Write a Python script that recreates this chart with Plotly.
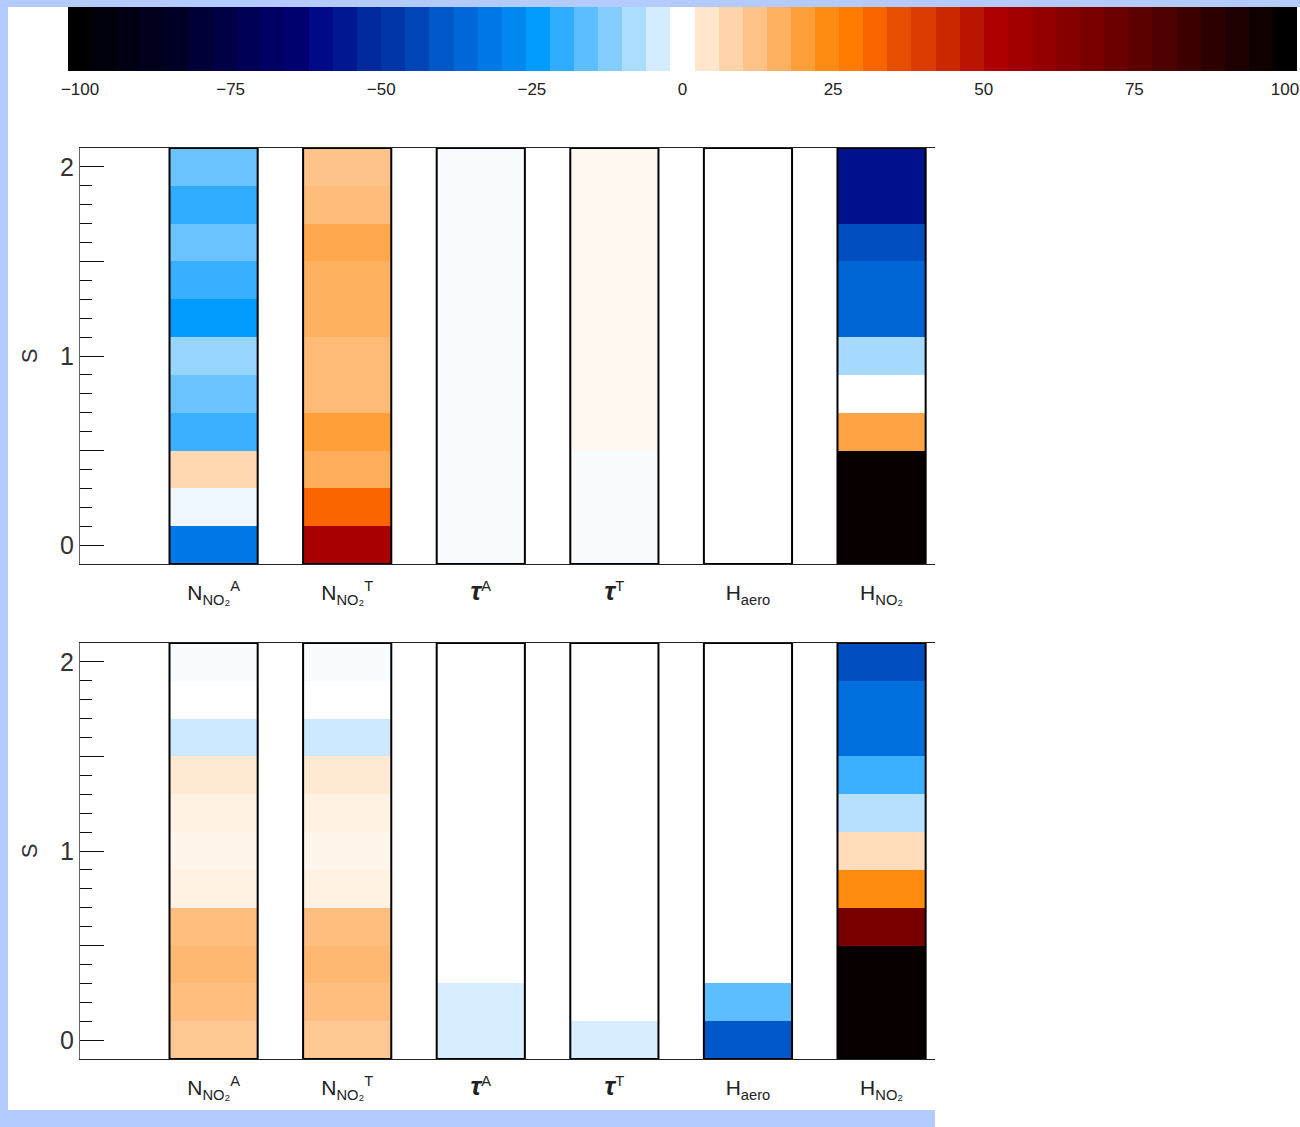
import plotly.graph_objects as go

# ---------------- data ----------------
# colour-bar levels and the colour drawn for each level
levels = [-100, -96, -92, -88, -84, -80, -76, -72, -68, -64, -60, -56, -52, -48, -44, -40,
          -36, -32, -28, -24, -20, -16, -12, -8, -4, 0, 4, 8, 12, 16, 20, 24, 28, 32, 36,
          40, 44, 48, 52, 56, 60, 64, 68, 72, 76, 80, 84, 88, 92, 96, 100]
level_colors = ["#000000", "#00000c", "#000014", "#00001c", "#000026", "#000036", "#000046",
                "#000056", "#000064", "#00006e", "#000a86", "#00178f", "#002a9c", "#0036a8",
                "#0045b5", "#0058c8", "#0068d8", "#0078e6", "#0088f0", "#009cff", "#30acff",
                "#5cbdff", "#84ceff", "#abddff", "#d3ecff", "#ffffff", "#ffe6cc", "#ffd4aa",
                "#ffc288", "#ffb060", "#ff9f3a", "#ff8c12", "#ff7a00", "#fa6400", "#e84e00",
                "#dc3c00", "#cc2800", "#ba1400", "#ae0000", "#a20000", "#940000", "#860000",
                "#780000", "#6a0000", "#5c0000", "#4c0000", "#3c0000", "#2c0000", "#1e0000",
                "#100000", "#000000"]
cbar_ticks = [-100, -75, -50, -25, 0, 25, 50, 75, 100]

# S values (cell centres) and parameter labels
s_values = [0.0, 0.2, 0.4, 0.6, 0.8, 1.0, 1.2, 1.4, 1.6, 1.8, 2.0]
param_labels = ["N<sub>NO₂</sub><sup>A</sup>", "N<sub>NO₂</sub><sup>T</sup>",
                "<span style='font-size:26px'><b><i>τ</i></b></span><sup>A</sup>",
                "<span style='font-size:26px'><b><i>τ</i></b></span><sup>T</sup>",
                "H<sub>aero</sub>", "H<sub>NO₂</sub>"]
y_tickvals = [0, 0.5, 1, 1.5, 2]
y_ticktext = ["0", "", "1", "", "2"]

# upper panel: values for S = 0.0 ... 2.0
top_N_A = [-32, -1.4, 7.1, -19, -14.5, -10.2, -24, -19.3, -14.5, -20, -14.5]
top_N_T = [54, 32, 16.6, 20, 13.8, 13.8, 16, 16, 17.9, 13.2, 12]
top_tau_A = [-0.6, -0.6, -0.6, -0.6, -0.6, -0.6, -0.6, -0.6, -0.6, -0.6, -0.6]
top_tau_T = [-0.6, -0.6, -0.6, 1.2, 1.2, 1.2, 1.2, 1.2, 1.2, 1.2, 1.2]
top_H_aero = [0, 0, 0, 0, 0, 0, 0, 0, 0, 0, 0]
top_H_NO2 = [98, 98, 98, 18.8, 0, -8.5, -36.5, -36.5, -42, -58, -58]

# lower panel
bot_N_A = [10.7, 12.9, 14.2, 12.9, 2.2, 1.6, 2.2, 3.5, -4.7, 0, -0.6]
bot_N_T = [10.7, 12.9, 14.2, 12.9, 2.2, 1.6, 2.2, 3.5, -4.7, 0, -0.6]
bot_tau_A = [-3.8, -3.8, 0, 0, 0, 0, 0, 0, 0, 0, 0]
bot_tau_T = [-3.8, 0, 0, 0, 0, 0, 0, 0, 0, 0, 0]
bot_H_aero = [-40, -16, 0, 0, 0, 0, 0, 0, 0, 0, 0]
bot_H_NO2 = [98, 98, 98, 68, 24.5, 6, -7, -19, -34, -34, -42]

top_panel = [top_N_A, top_N_T, top_tau_A, top_tau_T, top_H_aero, top_H_NO2]
bot_panel = [bot_N_A, bot_N_T, bot_tau_A, bot_tau_T, bot_H_aero, bot_H_NO2]

# ---------------- styling ----------------
W, H = 1300, 1127
FONT = "Liberation Sans"
BORDER = "#b3cbff"
BAR_W = 0.66
ZMIN, ZMAX = levels[0], levels[-1]
colorscale = [[(lv - ZMIN) / (ZMAX - ZMIN), c] for lv, c in zip(levels, level_colors)]


def px_x(p):
    return p / W


def px_y(p):
    return 1 - p / H


fig = go.Figure()

# colour bar drawn as a heatmap of the levels
fig.add_trace(go.Heatmap(x=levels, y=[0], z=[levels], colorscale=colorscale,
                         zmin=ZMIN, zmax=ZMAX, showscale=False, xaxis="x", yaxis="y",
                         hoverinfo="x"))

cols = list(range(1, len(param_labels) + 1))
half_step = (s_values[1] - s_values[0]) / 2
s_lo = s_values[0] - half_step
s_hi = s_values[-1] + half_step

for panel, (xa, ya) in zip([top_panel, bot_panel], [("x2", "y2"), ("x3", "y3")]):
    for c, vals in zip(cols, panel):
        fig.add_trace(go.Heatmap(x=[c - BAR_W / 2, c + BAR_W / 2], y=s_values,
                                 z=[[v] for v in vals], colorscale=colorscale,
                                 zmin=ZMIN, zmax=ZMAX, showscale=False,
                                 xaxis=xa, yaxis=ya))
    fig.add_trace(go.Bar(x=cols, y=[s_hi - s_lo] * len(cols), base=s_lo, width=BAR_W,
                         marker=dict(color="rgba(0,0,0,0)",
                                     line=dict(color="black", width=2)),
                         hoverinfo="skip", xaxis=xa, yaxis=ya, showlegend=False))

tickfont = dict(family=FONT, size=17, color="#222")
panel_x = dict(domain=[px_x(80), px_x(935)], range=[0, 6.4], tickmode="array",
               tickvals=cols, ticktext=param_labels, ticks="", showline=True,
               mirror=True, linecolor="#222", linewidth=1, showgrid=False,
               zeroline=False, tickfont=dict(family=FONT, size=21, color="#222"),
               ticklabelstandoff=10, fixedrange=True, automargin=False)
panel_y = dict(range=[s_lo, s_hi], tickmode="array", tickvals=y_tickvals,
               ticktext=y_ticktext, ticks="inside", ticklen=24, tickwidth=1,
               tickcolor="#111", showline=True, linecolor="#666", linewidth=1,
               showgrid=False, zeroline=False,
               minor=dict(dtick=0.1, ticks="inside", ticklen=12, tickwidth=1,
                          tickcolor="#111", showgrid=False),
               tickfont=dict(family=FONT, size=25, color="#333"),
               title=dict(text="S", font=dict(family=FONT, size=22, color="#333"),
                          standoff=16),
               fixedrange=True, automargin=False)

fig.update_layout(
    width=W, height=H,
    margin=dict(l=0, r=0, t=0, b=0, pad=0, autoexpand=False),
    paper_bgcolor="white", plot_bgcolor="white",
    showlegend=False, barmode="overlay",
    xaxis=dict(domain=[px_x(68), px_x(1297)], range=[-102, 102], tickmode="array",
               tickvals=cbar_ticks, ticks="", showline=False, showgrid=False,
               zeroline=False, tickfont=tickfont, anchor="y", fixedrange=True,
               ticklabelstandoff=6, automargin=False),
    yaxis=dict(domain=[px_y(71), px_y(7)], range=[-0.5, 0.5], visible=False,
               anchor="x", fixedrange=True, automargin=False),
    xaxis2=dict(panel_x, anchor="y2"),
    yaxis2=dict(panel_y, domain=[px_y(564), px_y(148)], anchor="x2"),
    xaxis3=dict(panel_x, anchor="y3"),
    yaxis3=dict(panel_y, domain=[px_y(1059), px_y(643)], anchor="x3"),
    shapes=[
        dict(type="rect", xref="paper", yref="paper", x0=0, x1=1, y0=px_y(7), y1=1,
             fillcolor=BORDER, line=dict(width=0), layer="below"),
        dict(type="rect", xref="paper", yref="paper", x0=0, x1=px_x(8), y0=0, y1=1,
             fillcolor=BORDER, line=dict(width=0), layer="below"),
        dict(type="rect", xref="paper", yref="paper", x0=0, x1=px_x(935), y0=0,
             y1=px_y(1110), fillcolor=BORDER, line=dict(width=0), layer="below"),
    ],
)

fig.write_html("out.html", config={"displayModeBar": False},
               post_script="document.body.style.margin='0px';"
                           "document.body.style.padding='0px';"
                           "document.documentElement.style.overflow='hidden';")
